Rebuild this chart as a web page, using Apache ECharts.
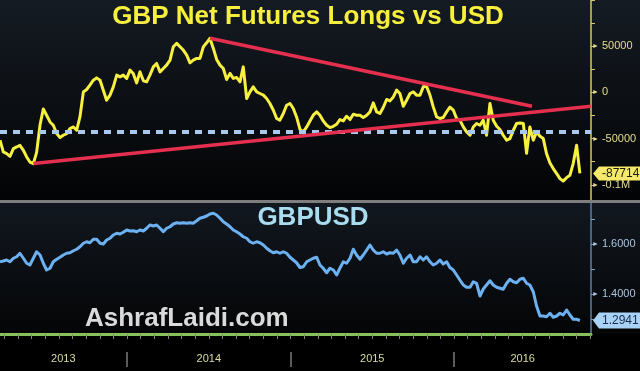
<!DOCTYPE html>
<html><head><meta charset="utf-8">
<script src="https://cdn.jsdelivr.net/npm/echarts@6/dist/echarts.min.js"></script>
<style>html,body{margin:0;padding:0;background:#000;}#c{width:640px;height:371px;}</style>
</head><body><div id="c"></div>
<script>
// ---- data ----
const sampleYears = [
2013.223,2013.243,2013.264,2013.284,2013.305,2013.325,2013.345,2013.366,2013.386,2013.406,
2013.427,2013.447,2013.468,2013.488,2013.508,2013.529,2013.549,2013.570,2013.590,2013.610,
2013.631,2013.651,2013.672,2013.692,2013.712,2013.733,2013.753,2013.773,2013.794,2013.814,
2013.835,2013.855,2013.875,2013.896,2013.916,2013.937,2013.957,2013.977,2013.998,2014.018,
2014.038,2014.059,2014.079,2014.100,2014.120,2014.140,2014.161,2014.181,2014.202,2014.222,
2014.242,2014.263,2014.283,2014.304,2014.324,2014.344,2014.365,2014.385,2014.405,2014.426,
2014.446,2014.467,2014.487,2014.507,2014.528,2014.548,2014.569,2014.589,2014.609,2014.630,
2014.650,2014.670,2014.691,2014.711,2014.732,2014.752,2014.772,2014.793,2014.813,2014.834,
2014.854,2014.874,2014.895,2014.915,2014.935,2014.956,2014.976,2014.997,2015.017,2015.037,
2015.058,2015.078,2015.099,2015.119,2015.139,2015.160,2015.180,2015.200,2015.221,2015.241,
2015.262,2015.282,2015.302,2015.323,2015.343,2015.364,2015.384,2015.404,2015.425,2015.445,
2015.466,2015.486,2015.506,2015.527,2015.547,2015.567,2015.588,2015.608,2015.629,2015.649,
2015.669,2015.690,2015.710,2015.731,2015.751,2015.771,2015.792,2015.812,2015.832,2015.853,
2015.873,2015.894,2015.914,2015.934,2015.955,2015.975,2015.996,2016.016,2016.036,2016.057,
2016.077,2016.098,2016.118,2016.138,2016.159,2016.179,2016.199,2016.220,2016.240,2016.261,
2016.281,2016.301,2016.322,2016.342,2016.363,2016.383,2016.403,2016.424,2016.444,2016.464,
2016.485,2016.505,2016.526,2016.546,2016.566,2016.587,2016.607,2016.628,2016.648,2016.668,
2016.689,2016.709,2016.729,2016.750,2016.770];

const futuresNet = [
-51800,-64500,-66300,-69200,-60800,-59100,-57300,-62700,-69900,-75400,
-77100,-65000,-35000,-18000,-24700,-32000,-35600,-44600,-48900,-46400,
-44600,-39200,-37400,-41000,-26600,500,3100,7800,13200,15700,
13200,2400,-8500,-3000,6000,18700,16800,18700,15100,24100,
20500,10300,22200,12500,11400,18700,27600,31300,22200,25900,
29500,34900,49400,53000,49400,45800,40300,32000,34900,36800,
36800,49400,53700,58500,47600,35700,29500,25900,14000,20500,
15100,16200,11400,27600,-6600,500,6000,500,-1200,-3000,
-6600,-12000,-19300,-28300,-30100,-22900,-13900,-12000,-17500,-26600,
-40000,-42800,-37400,-30900,-24700,-21100,-24700,-30900,-35600,-38100,
-36700,-34500,-29400,-30900,-25800,-29400,-23600,-24700,-24700,-27200,
-24700,-21100,-11400,-21100,-22900,-16400,-7700,-9200,-4900,2400,
-1200,-15000,-8500,-1200,500,-3000,-3000,6000,6700,-3000,
-15700,-26600,-28300,-27200,-21100,-16000,-19300,-28300,-30100,-37400,
-42800,-46400,-37400,-33700,-35600,-30100,-46400,-12000,-30100,-36700,
-40200,-46400,-51800,-50000,-41000,-33700,-33100,-33700,-66000,-37400,
-51800,-42800,-47500,-50000,-66300,-76500,-82500,-88000,-93400,-96000,
-92300,-89800,-77100,-57300,-87714];

const gbpusd = [
1.529,1.532,1.536,1.529,1.543,1.549,1.563,1.543,1.523,1.516,
1.543,1.569,1.556,1.523,1.496,1.503,1.529,1.539,1.547,1.556,
1.563,1.565,1.573,1.579,1.589,1.603,1.609,1.605,1.619,1.619,
1.603,1.600,1.616,1.623,1.636,1.643,1.640,1.647,1.656,1.652,
1.653,1.649,1.656,1.652,1.663,1.676,1.672,1.676,1.663,1.649,
1.663,1.669,1.680,1.685,1.683,1.685,1.683,1.685,1.683,1.693,
1.703,1.707,1.712,1.720,1.723,1.716,1.703,1.689,1.680,1.669,
1.656,1.649,1.640,1.629,1.623,1.609,1.603,1.609,1.605,1.596,
1.583,1.573,1.565,1.569,1.563,1.569,1.563,1.547,1.536,1.525,
1.506,1.509,1.529,1.536,1.543,1.547,1.516,1.503,1.485,1.503,
1.496,1.476,1.503,1.529,1.523,1.543,1.579,1.556,1.539,1.556,
1.576,1.596,1.576,1.563,1.563,1.569,1.560,1.565,1.563,1.576,
1.556,1.523,1.543,1.556,1.529,1.529,1.549,1.536,1.549,1.529,
1.516,1.523,1.536,1.520,1.529,1.506,1.496,1.476,1.456,1.436,
1.427,1.427,1.449,1.443,1.392,1.420,1.436,1.453,1.436,1.427,
1.423,1.419,1.443,1.459,1.449,1.445,1.459,1.463,1.443,1.436,
1.409,1.352,1.312,1.312,1.309,1.323,1.307,1.312,1.323,1.316,
1.336,1.316,1.299,1.299,1.2941];

const yearLabels = ['2013','2014','2015','2016'];
const yearLabelPos = [2013.61, 2014.5, 2015.5, 2016.42];
const yearBounds = [2014, 2015, 2016];
const futTickValues = [-100000,-75000,-50000,-25000,0,25000,50000,75000,100000];
const futLabelValues = [-100000,-50000,0,50000];
const fxTickValues = [1.3,1.4,1.5,1.6,1.7];
const fxLabelValues = [1.4,1.6];
const refLevel = -43000;
const trendLow = [[2013.427,-77100],[2016.838,-15000]];
const trendHigh = [[2014.507,58500],[2016.477,-15000]];
const lastFutures = -87714;
const lastFx = 1.2941;
const X_MIN = 2013.223, X_MAX = 2016.838;

const monthTicks = [];
for (let y = 2013; y < 2017; y++) for (let m = 0; m < 12; m++) monthTicks.push(y + m / 12);

// ---- chart ----
const FONT = 'Liberation Sans';
const chart = echarts.init(document.getElementById('c'));
const G = echarts.graphic.LinearGradient;

function futFmt(v){ return v === -100000 ? '-0.1M' : String(v); }

const option = {
  animation: false,
  backgroundColor: '#000',
  grid: [
    {left: 0, right: 49, top: 0, height: 200, outerBoundsMode: 'none', containLabel: false},
    {left: 0, right: 49, top: 203, height: 131, outerBoundsMode: 'none', containLabel: false}
  ],
  xAxis: [
    {type: 'value', gridIndex: 0, min: X_MIN, max: X_MAX, show: false},
    {type: 'value', gridIndex: 1, min: X_MIN, max: X_MAX, position: 'bottom',
     axisLine: {show: true, onZero: false, lineStyle: {color: '#86c25a', width: 3}},
     axisTick: {show: true, customValues: monthTicks, length: 5, lineStyle: {color: '#7f8a70', width: 1}},
     axisLabel: {show: true, customValues: yearLabelPos, margin: 19,
       formatter: v => yearLabels[yearLabelPos.indexOf(v)] ?? '',
       color: '#dcdca2', fontSize: 11, fontFamily: FONT},
     splitLine: {show: false}},
    {type: 'value', gridIndex: 1, min: X_MIN, max: X_MAX, position: 'bottom', offset: 18,
     axisLine: {show: false},
     axisTick: {show: true, customValues: yearBounds, length: 15, lineStyle: {color: '#7a7a7a', width: 1.5}},
     axisLabel: {show: false}, splitLine: {show: false}}
  ],
  yAxis: [
    {type: 'value', gridIndex: 0, position: 'right', min: -116500, max: 100000,
     axisLine: {show: true, lineStyle: {color: '#d6ca6a', width: 1.5}},
     axisTick: {show: true, customValues: futTickValues, length: 4, lineStyle: {color: '#d6ca6a'}},
     axisLabel: {show: true, customValues: futLabelValues, margin: 1,
       formatter: v => '{t|►}{v|' + futFmt(v) + '}',
       rich: {t: {fontSize: 7, color: '#e6dc8c', padding: [0, 3, 0, 0]},
              v: {fontSize: 11, color: '#e6dc8c', fontFamily: FONT}}},
     splitLine: {show: false}},
    {type: 'value', gridIndex: 1, position: 'right', min: 1.24, max: 1.764,
     axisLine: {show: true, lineStyle: {color: '#5f7fa8', width: 1.5}},
     axisTick: {show: true, customValues: fxTickValues, length: 4, lineStyle: {color: '#7f9fc4'}},
     axisLabel: {show: true, customValues: fxLabelValues, margin: 1,
       formatter: v => '{t|►}{v|' + v.toFixed(4) + '}',
       rich: {t: {fontSize: 7, color: '#a9c4e0', padding: [0, 3, 0, 0]},
              v: {fontSize: 11, color: '#a9c4e0', fontFamily: FONT}}},
     splitLine: {show: false}}
  ],
  series: [
    {type: 'line', xAxisIndex: 0, yAxisIndex: 0, data: [], z: 1,
     markLine: {silent: true, symbol: ['none', 'none'], label: {show: false},
       lineStyle: {color: '#a9c8ee', width: 4, type: [7, 6]},
       data: [{yAxis: refLevel}]}},
    {type: 'line', xAxisIndex: 0, yAxisIndex: 0, z: 2,
     data: sampleYears.map((t, i) => [t, futuresNet[i]]),
     showSymbol: false, lineStyle: {color: '#f7f040', width: 3, join: 'round'}},
    {type: 'line', xAxisIndex: 0, yAxisIndex: 0, data: [], z: 3,
     markLine: {silent: true, symbol: ['none', 'none'], label: {show: false},
       lineStyle: {color: '#e52f4f', width: 3.5, type: 'solid'},
       data: [
         [{coord: trendLow[0]}, {coord: trendLow[1]}],
         [{coord: trendHigh[0]}, {coord: trendHigh[1]}]
       ]}},
    {type: 'line', xAxisIndex: 1, yAxisIndex: 1, z: 2,
     data: sampleYears.map((t, i) => [t, gbpusd[i]]),
     showSymbol: false, lineStyle: {color: '#6cb2f2', width: 3, join: 'round'}}
  ]
};
chart.setOption(option);

// value tags placed via the library's own scales
const pF = chart.convertToPixel({xAxisIndex: 0, yAxisIndex: 0}, [X_MAX, lastFutures]);
const pX = chart.convertToPixel({xAxisIndex: 1, yAxisIndex: 1}, [X_MAX, lastFx]);
function tag(ax, y, fill, txtColor, text, h) {
  const tip = ax + 2, body = ax + 8;
  return [
    {type: 'polygon', z: 50, shape: {points: [[tip, y], [body, y - h / 2], [640, y - h / 2], [640, y + h / 2], [body, y + h / 2]]},
     style: {fill: fill}},
    {type: 'text', z: 51, x: body + 3, y: y, style: {text: text, fill: txtColor, font: '12px "' + FONT + '"', textVerticalAlign: 'middle'}}
  ];
}
chart.setOption({
  graphic: [
    {type: 'rect', z: -10, shape: {x: 0, y: 0, width: 640, height: 200},
     style: {fill: new G(0, 0, 0, 1, [{offset: 0, color: '#151b23'}, {offset: 1, color: '#030405'}])}},
    {type: 'rect', z: -10, shape: {x: 0, y: 203, width: 640, height: 131},
     style: {fill: new G(0, 0, 0, 1, [{offset: 0, color: '#121820'}, {offset: 1, color: '#040506'}])}},
    {type: 'rect', z: 5, shape: {x: 0, y: 200, width: 640, height: 3}, style: {fill: '#7e7e7e'}},
    {type: 'text', z: 20, x: 308, y: 17, style: {text: 'GBP Net Futures Longs vs USD', fill: '#f6ef3c',
      font: 'bold 26px "' + FONT + '"', textAlign: 'center', textVerticalAlign: 'middle'}},
    {type: 'text', z: 20, x: 313, y: 218, style: {text: 'GBPUSD', fill: '#a8dcee',
      font: 'bold 26px "' + FONT + '"', textAlign: 'center', textVerticalAlign: 'middle'}},
    {type: 'text', z: 20, x: 85, y: 319, style: {text: 'AshrafLaidi.com', fill: '#dadada',
      font: 'bold 26px "' + FONT + '"', textAlign: 'left', textVerticalAlign: 'middle'}},
    ...tag(pF[0], pF[1], '#f4e96a', '#1a1a10', String(lastFutures), 14),
    ...tag(pX[0], pX[1], '#a8d3f6', '#1a2c4a', lastFx.toFixed(4), 16)
  ]
});
</script></body></html>
